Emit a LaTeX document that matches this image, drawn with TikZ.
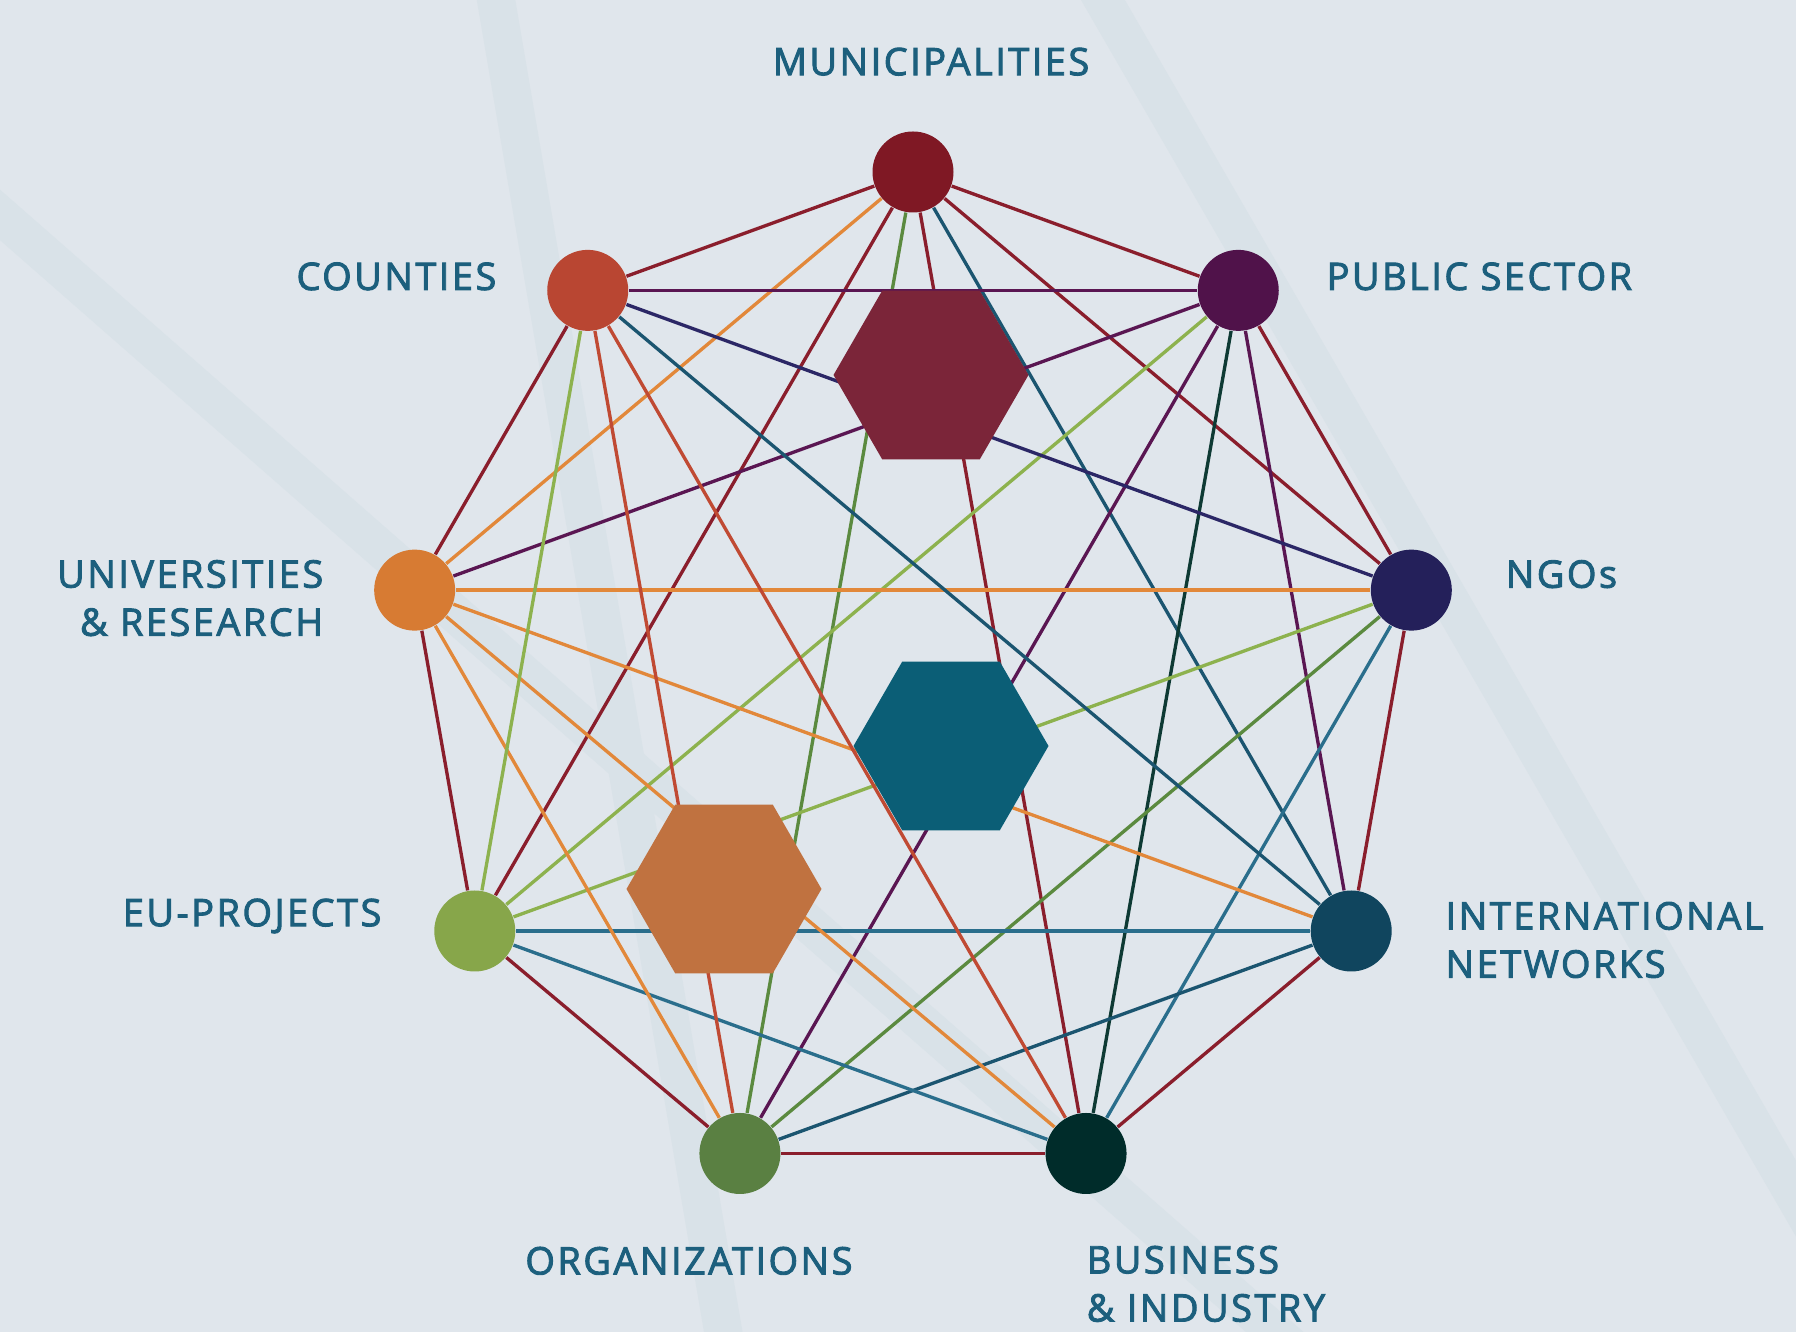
\documentclass[tikz,border=0pt]{standalone}
\usepackage{fontspec}
\setmainfont{Open Sans}
\newfontfamily\lblfont[LetterSpace=6.5,FakeBold=2.4]{Open Sans}
\usepackage{tikz}
\usetikzlibrary{shapes.geometric, positioning}

\definecolor{bgC}{HTML}{E0E6EC}
\definecolor{stripeC}{HTML}{D9E2E8}
\definecolor{textC}{HTML}{1C5F7D}

\definecolor{munC}{HTML}{7F1824}
\definecolor{pubC}{HTML}{50124A}
\definecolor{ngoC}{HTML}{24205A}
\definecolor{intC}{HTML}{10455E}
\definecolor{busC}{HTML}{002C2A}
\definecolor{orgC}{HTML}{5A8042}
\definecolor{euC}{HTML}{87A64A}
\definecolor{uniC}{HTML}{D77B33}
\definecolor{couC}{HTML}{B94632}

\definecolor{hexRedC}{HTML}{7B2539}
\definecolor{hexTealC}{HTML}{0B5E76}
\definecolor{hexOrangeC}{HTML}{C07240}

\pgfdeclarelayer{stripes}
\pgfdeclarelayer{links}
\pgfsetlayers{stripes,links,main}

\begin{document}
\begin{tikzpicture}[hub/.style = {circle, minimum size=8.1mm, inner sep=0pt},
	hex/.style = {regular polygon, regular polygon sides=6, minimum size=19.5mm, inner sep=0pt},
	lbl/.style = {inner sep=0pt, text=textC, font=\lblfont\fontsize{10.8}{13.7}\selectfont},
	link/.style = {line width=0.95pt},
	redL/.style = {link, draw={rgb,255:red,138;green,30;blue,44}},
	rustL/.style = {link, draw={rgb,255:red,192;green,74;blue,51}},
	orangeL/.style = {link, draw={rgb,255:red,226;green,136;blue,58}},
	limeL/.style = {link, draw={rgb,255:red,141;green,178;blue,78}},
	greenL/.style = {link, draw={rgb,255:red,91;green,138;blue,63}},
	tealL/.style = {link, draw={rgb,255:red,27;green,85;blue,112}},
	blueL/.style = {link, draw={rgb,255:red,42;green,110;blue,140}},
	purpleL/.style = {link, draw={rgb,255:red,90;green,22;blue,82}},
	navyL/.style = {link, draw={rgb,255:red,43;green,39;blue,102}},
	darkL/.style = {link, draw={rgb,255:red,14;green,58;blue,52}}]

\useasboundingbox (-9.13,-6.54) rectangle (8.83,6.78);

% background and light bands
\begin{pgfonlayer}{stripes}
\fill[bgC] (-9.13,-6.54) rectangle (8.83,6.78);
\draw[stripeC, line width=3.8mm] (-4.19,6.9) -- (-1.87,-6.7);
\draw[stripeC, line width=3.8mm] (-9.3,4.78) -- (3.8,-6.7);
\draw[stripeC, line width=3.8mm] (1.83,6.9) -- (9.0,-5.5);
\end{pgfonlayer}

\node[hub, fill=munC]		(mun) at (90:5.06)		{};
\node[hub, fill=pubC]		(pub) at (50:5.06)		{};
\node[hub, fill=ngoC]		(ngo) at (10:5.06)		{};
\node[hub, fill=intC]		(int) at (-30:5.06)		{};
\node[hub, fill=busC]		(bus) at (-70:5.06)		{};
\node[hub, fill=orgC]		(org) at (-110:5.06)	{};
\node[hub, fill=euC]		(eu) at (-150:5.06)		{};
\node[hub, fill=uniC]		(uni) at (170:5.06)		{};
\node[hub, fill=couC]		(cou) at (130:5.06)		{};

\node[hex, fill=hexRedC]	(hexTop) at (0.18,3.03)		{};
\node[hex, fill=hexTealC]	(hexMid) at (0.38,-0.68)	{};
\node[hex, fill=hexOrangeC]	(hexLow) at (-1.89,-2.11)	{};

\node[lbl, above=5.45mm of mun, xshift=1.8mm]			(munL)	{MUNICIPALITIES};
\node[lbl, right=4.65mm of pub, yshift=1.4mm]			(pubL)	{PUBLIC SECTOR};
\node[lbl, right=5.25mm of ngo, yshift=1.6mm]			(ngoL)	{NGOs};
\node[lbl, right=5.25mm of int, yshift=-0.9mm, align=left]	(intL)	{INTERNATIONAL\\NETWORKS};
\node[lbl, below=5.05mm of bus.south, anchor=north west, align=left]	(busL)	{BUSINESS\\\& INDUSTRY};
\node[lbl, below=5.15mm of org, xshift=-5.1mm]			(orgL)	{ORGANIZATIONS};
\node[lbl, left=5.15mm of eu, yshift=1.5mm]			(euL)	{EU-PROJECTS};
\node[lbl, left=4.95mm of uni, yshift=-0.8mm, align=right]	(uniL)	{UNIVERSITIES\\\& RESEARCH};
\node[lbl, left=4.95mm of cou, yshift=1.4mm]			(couL)	{COUNTIES};

\begin{pgfonlayer}{links}
\path	(mun)	edge[redL]		(pub);
\path	(mun)	edge[redL]		(ngo);
\path	(mun)	edge[tealL]		(int);
\path	(mun)	edge[redL]		(bus);
\path	(mun)	edge[greenL]	(org);
\path	(mun)	edge[redL]		(eu);
\path	(mun)	edge[orangeL]	(uni);
\path	(mun)	edge[redL]		(cou);

\path	(pub)	edge[redL]		(ngo);
\path	(pub)	edge[purpleL]	(int);
\path	(pub)	edge[darkL]		(bus);
\path	(pub)	edge[purpleL]	(org);
\path	(pub)	edge[limeL]		(eu);
\path	(pub)	edge[purpleL]	(uni);
\path	(pub)	edge[purpleL]	(cou);

\path	(ngo)	edge[redL]		(int);
\path	(ngo)	edge[blueL]		(bus);
\path	(ngo)	edge[greenL]	(org);
\path	(ngo)	edge[limeL]		(eu);
\path	(ngo)	edge[orangeL]	(uni);
\path	(ngo)	edge[navyL]		(cou);

\path	(int)	edge[redL]		(bus);
\path	(int)	edge[tealL]		(org);
\path	(int)	edge[blueL]		(eu);
\path	(int)	edge[orangeL]	(uni);
\path	(int)	edge[tealL]		(cou);

\path	(bus)	edge[redL]		(org);
\path	(bus)	edge[blueL]		(eu);
\path	(bus)	edge[orangeL]	(uni);
\path	(bus)	edge[rustL]		(cou);

\path	(org)	edge[redL]		(eu);
\path	(org)	edge[orangeL]	(uni);
\path	(org)	edge[rustL]		(cou);

\path	(eu)	edge[redL]		(uni);
\path	(eu)	edge[limeL]		(cou);

\path	(uni)	edge[redL]		(cou);
\end{pgfonlayer}

\end{tikzpicture}
\end{document}
